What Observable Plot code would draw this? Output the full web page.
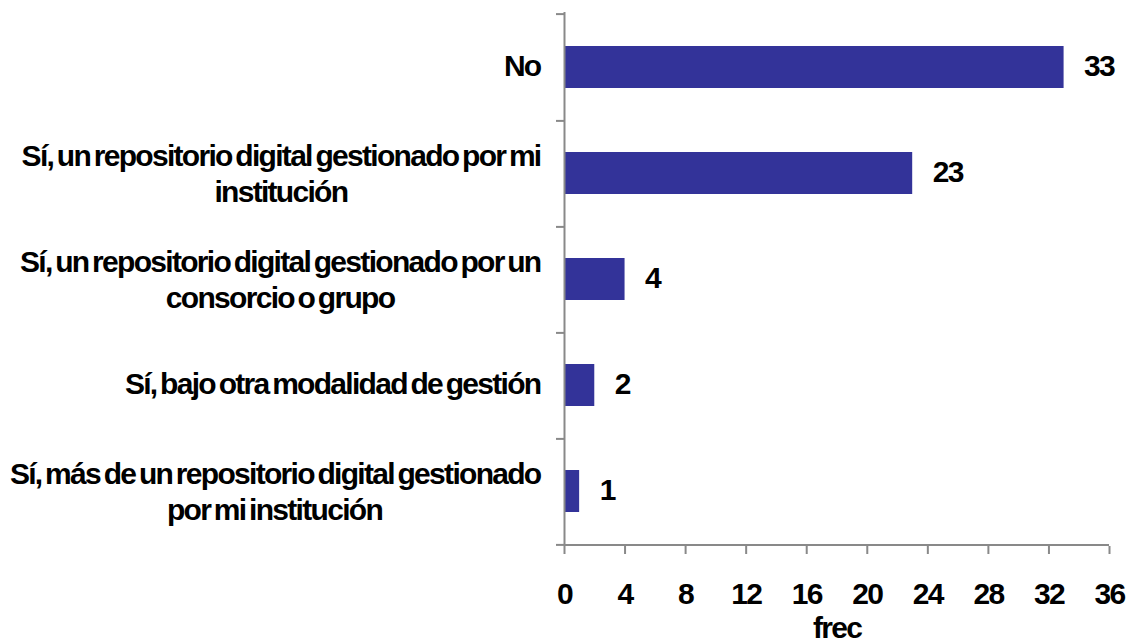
<!DOCTYPE html>
<html><head><meta charset="utf-8">
<script src="https://cdn.jsdelivr.net/npm/d3@7"></script>
<script src="https://cdn.jsdelivr.net/npm/@observablehq/plot@0.6"></script>
<style>
html,body{margin:0;padding:0;background:#fff;}
#chart svg{display:block;}
</style></head><body><div id="chart"></div>
<script>
// ---- data ----
const categories = [
  "No",
  "Sí, un repositorio digital gestionado por mi\ninstitución",
  "Sí, un repositorio digital gestionado por un\nconsorcio o grupo",
  "Sí, bajo otra modalidad de gestión",
  "Sí, más de un repositorio digital gestionado\npor mi institución"
];
const values = [33, 23, 4, 2, 1];
const xTicks = [0, 4, 8, 12, 16, 20, 24, 28, 32, 36];
const xLabel = "frec";

// ---- layout / style ----
const W = 1140, H = 643, mt = 12, mb = 97, ml = 564, mr = 31;
const FONT = "'Liberation Sans', Arial, sans-serif";
const FS = 30, LS = -1.7, WS = -3;
const barColor = "#333399", axisColor = "#898989";
const labelGap = 24;

const data = categories.map((c, i) => ({cat: c, value: values[i], lines: c.split("\n")}));
const step = (H - mt - mb) / categories.length;

function measure(text) {
  const svg = d3.select("body").append("svg").attr("width", 2000).attr("height", 100)
    .style("position", "absolute").style("left", "-3000px");
  const t = svg.append("text").attr("font-family", FONT).attr("font-size", FS)
    .attr("font-weight", "bold").style("letter-spacing", LS + "px").style("word-spacing", WS + "px").text(text);
  const w = t.node().getBBox().width;
  svg.remove();
  return w;
}

const textOpts = {fontSize: FS, fontWeight: "bold", fill: "black"};
const labelMarks = [];
for (const d of data) {
  if (d.lines.length === 1) {
    labelMarks.push(Plot.text([d], {x: () => 0, y: "cat", text: () => d.lines[0], textAnchor: "end", dx: -labelGap, dy: -1, ...textOpts}));
  } else {
    const w1 = measure(d.lines[0]);
    labelMarks.push(Plot.text([d], {x: () => 0, y: "cat", text: () => d.lines[0], textAnchor: "end", dx: -labelGap, dy: -17, ...textOpts}));
    labelMarks.push(Plot.text([d], {x: () => 0, y: "cat", text: () => d.lines[1], textAnchor: "middle", dx: -labelGap - w1 / 2, dy: 19, ...textOpts}));
  }
}

const chart = Plot.plot({
  width: W, height: H,
  marginTop: mt, marginBottom: mb, marginLeft: ml, marginRight: mr,
  style: {fontFamily: FONT, letterSpacing: LS + "px", wordSpacing: WS + "px", background: "white", overflow: "visible"},
  x: {domain: [0, 36], axis: null},
  y: {domain: categories, paddingInner: 0.6, paddingOuter: 0.3, axis: null},
  marks: [
    Plot.barX(data, {x: "value", y: "cat", fill: barColor}),
    Plot.ruleX([0], {stroke: axisColor, strokeWidth: 2}),
    Plot.ruleY([categories[categories.length - 1]], {dy: step / 2, stroke: axisColor, strokeWidth: 2}),
    Plot.axisY(categories, {label: null, tickSize: 8, tickFormat: () => "", dy: step / 2, stroke: axisColor, strokeWidth: 2}),
    Plot.axisY([categories[0]], {label: null, tickSize: 8, tickFormat: () => "", dy: -step / 2, stroke: axisColor, strokeWidth: 2}),
    Plot.axisX(xTicks, {label: null, tickSize: 8, tickPadding: 28, stroke: axisColor, strokeWidth: 2,
      fill: "black", fontSize: FS, fontWeight: "bold", tickFormat: d => String(d)}),
    Plot.text([xLabel], {frameAnchor: "bottom", lineAnchor: "middle", text: d => d, dy: 82, ...textOpts}),
    Plot.text(data, {x: "value", y: "cat", text: d => String(d.value), textAnchor: "start", dx: 20, dy: -1, ...textOpts}),
    ...labelMarks
  ]
});
document.getElementById("chart").appendChild(chart);
</script>
</body></html>
